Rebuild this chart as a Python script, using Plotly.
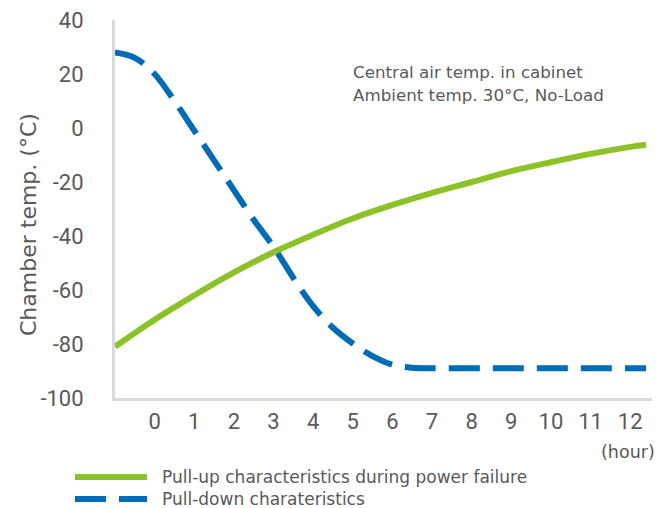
import plotly.graph_objects as go

# Data (hours vs chamber temperature, °C)
pullup_x = [-1, 0, 1, 2, 3, 4, 5, 6, 7, 8, 9, 10, 11, 12, 12.4]
pullup_y = [-81, -71, -62, -53.5, -46, -39.5, -33.5, -28.5, -24, -20, -16, -12.7, -9.6, -7, -6.2]

pulldown_x = [-1, -0.5, 0, 0.5, 1, 1.5, 2, 2.5, 3, 3.5, 4, 4.5, 5, 5.5, 6, 6.5, 7, 8, 9, 10, 11, 12, 12.4]
pulldown_y = [28, 26, 20, 10, -1, -12, -23, -34, -44, -55.5, -66, -74, -79.8, -84.5, -87.7, -88.8,
              -89, -89, -89, -89, -89, -89, -89]

x_ticks = list(range(0, 13))
y_ticks = [40, 20, 0, -20, -40, -60, -80, -100]

series_names = ["Pull-up characteristics during power failure", "Pull-down charateristics"]
note_lines = ["Central air temp. in cabinet", "Ambient temp. 30°C, No-Load"]
y_title = "Chamber temp. (°C)"
x_unit = "(hour)"

GREEN = "#8cc227"
BLUE = "#006bb6"
TEXT = "#595959"
AXIS = "#d9d9d9"
TICKFONT = "Roboto"
TXTFONT = "DejaVu Sans"

# The page places the figure 8px from the top-left corner
OFF = 8
W, H = 668 - OFF, 508 - OFF
ML, MR, MT, MB = 115 - OFF, 16, 20 - OFF, 110
PW, PH = W - ML - MR, H - MT - MB


def px_x(p):
    return (p - OFF - ML) / PW


def px_y(p):
    return (H - MB - (p - OFF)) / PH


fig = go.Figure()
fig.add_trace(go.Scatter(
    x=pullup_x, y=pullup_y, mode="lines", line=dict(color=GREEN, width=6, shape="spline"),
    name=series_names[0], showlegend=False))
fig.add_trace(go.Scatter(
    x=pulldown_x, y=pulldown_y, mode="lines",
    line=dict(color=BLUE, width=6, shape="spline", dash="31px,13px"),
    name=series_names[1], showlegend=False))

fig.update_layout(
    width=W, height=H,
    margin=dict(l=ML, r=MR, t=MT, b=MB, autoexpand=False),
    paper_bgcolor="white", plot_bgcolor="white",
    font=dict(family=TXTFONT, color=TEXT, size=16),
    showlegend=False,
)

fig.update_xaxes(
    range=[-1, 12.55], tickmode="array", tickvals=x_ticks, ticktext=[str(t) for t in x_ticks],
    showgrid=False, zeroline=False, showline=True, linecolor=AXIS, linewidth=3,
    ticks="", tickfont=dict(family=TICKFONT, size=22, color=TEXT), ticklabelstandoff=2,
    ticklabeloverflow="allow", automargin=False)
fig.update_yaxes(
    range=[-100, 40], tickmode="array", tickvals=y_ticks, ticktext=[str(t) for t in y_ticks],
    showgrid=False, zeroline=False, showline=True, linecolor=AXIS, linewidth=3,
    ticks="", tickfont=dict(family=TICKFONT, size=22, color=TEXT), ticklabelstandoff=24,
    ticklabeloverflow="allow", automargin=False)

# Y axis title (placed as in the reference, slightly below the plot centre)
fig.add_annotation(
    x=px_x(28), y=px_y(225), xref="paper", yref="paper", xanchor="center", yanchor="middle",
    text=y_title, textangle=-90, showarrow=False, font=dict(size=22, color=TEXT))

# Note text
for i, line in enumerate(note_lines):
    fig.add_annotation(
        x=px_x(351), y=px_y(72 + 23 * i), xref="paper", yref="paper", xanchor="left", yanchor="middle",
        text=line, showarrow=False, align="left", font=dict(size=16.7, color=TEXT))

fig.add_annotation(
    x=px_x(657), y=px_y(452), xref="paper", yref="paper", xanchor="right", yanchor="middle",
    text=x_unit, showarrow=False, font=dict(size=17.5, color=TEXT))

# Legend (drawn manually to match long line samples)
legend_styles = [dict(color=GREEN, width=6), dict(color=BLUE, width=6, dash="31px,13px")]
for i, (name, style) in enumerate(zip(series_names, legend_styles)):
    yy = px_y(477 + 22 * i)
    fig.add_shape(type="line", xref="paper", yref="paper",
                  x0=px_x(75), x1=px_x(147), y0=yy, y1=yy, line=style)
    fig.add_annotation(x=px_x(160), y=yy, xref="paper", yref="paper", xanchor="left",
                       yanchor="middle", text=name, showarrow=False,
                       font=dict(size=17, color=TEXT))

fig.write_html("out.html")
